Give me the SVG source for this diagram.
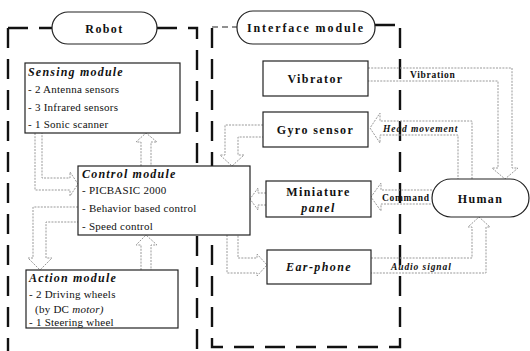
<svg xmlns="http://www.w3.org/2000/svg" width="530" height="351" viewBox="0 0 530 351">
<style>
.frame{fill:none;stroke:#111;stroke-width:2.4;stroke-dasharray:20 11}
.frame2{fill:none;stroke:#222;stroke-width:1.2;stroke-dasharray:6 4}
.box{fill:#fff;stroke:#222;stroke-width:1.2}
.arr{fill:none;stroke:#999;stroke-width:1;stroke-dasharray:2 1.2}
text{font-family:"Liberation Serif","Times New Roman",serif;fill:#111}
.h{font-weight:bold;font-style:italic;font-size:12px;letter-spacing:1.2px}
.t{font-size:11px;letter-spacing:0.25px}
.b{font-weight:bold;font-size:12px;letter-spacing:1.4px}
.lab{font-weight:bold;font-size:9.5px;letter-spacing:0.7px}
.labi{font-weight:bold;font-style:italic;font-size:9.5px;letter-spacing:0.9px}
</style>
<rect width="530" height="351" fill="#fff"/>
<g id="frames">
<path class="frame" d="M8,28 H52 M157,28 H197 V351 M8,28 V351"/>
<path class="frame" d="M212,28 V347 H400 V25 M375,25 H400"/>
<path class="frame2" d="M212,27 H237"/>
</g>
<g id="connectors">
<path class="arr" d="M35,133 V190 H70 V196 L78,184 L70,172 V178 H42 V133"/>
<path class="arr" d="M141,166 V142 H136 L146,133 L157,142 H151 V166"/>
<path class="arr" d="M78,207 H33 V258 H28 L40,270 L52,258 H46 V222 H78"/>
<path class="arr" d="M141,270 V245 H136 L146,235 L157,245 H151 V270"/>
<path class="arr" d="M263,125 H225 V155 H220 L232,166 L244,155 H238 V137 H263"/>
<path class="arr" d="M266,193 H258 V188 L250,199 L258,210 V205 H266"/>
<path class="arr" d="M227,235 V273 H257 V276 L267,265 L257,254 V258 H238 V235"/>
<path class="arr" d="M368,68 H512 V168 H518 L505,179 L492,168 H498 V81 H368"/>
<path class="arr" d="M472,179 V121 H380 V113 L370,128 L380,143 V135 H458 V179"/>
<path class="arr" d="M432,190 H381 V183 L371,197 L381,211 V204 H432"/>
<path class="arr" d="M371,258 H472 V227 H468 L479,217 L490,227 H486 V273 H371"/>
<text class="lab" x="410" y="78">Vibration</text>
<text class="labi" x="383" y="132">Head movement</text>
<text class="lab" x="382" y="201">Command</text>
<text class="labi" x="391" y="270">Audio signal</text>
</g>
<g id="robot">
<rect class="box" x="52" y="12" width="105" height="32" rx="16"/>
<text class="b" x="104.5" y="33" text-anchor="middle" font-size="13">Robot</text>
</g>
<g id="interface">
<rect class="box" x="237" y="11" width="138" height="33" rx="16"/>
<text class="b" x="306" y="32" text-anchor="middle" style="letter-spacing:1.9px">Interface module</text>
</g>
<g id="sensing">
<rect class="box" x="25" y="63" width="155" height="70"/>
<text class="h" x="28" y="76">Sensing module</text>
<text class="t" x="28" y="93">- 2 Antenna sensors</text>
<text class="t" x="28" y="111">- 3 Infrared sensors</text>
<text class="t" x="28" y="128">- 1 Sonic scanner</text>
</g>
<g id="control">
<rect class="box" x="78" y="166" width="172" height="69"/>
<text class="h" x="82" y="178">Control module</text>
<text class="t" x="82" y="194">- PICBASIC 2000</text>
<text class="t" x="82" y="212">- Behavior based control</text>
<text class="t" x="82" y="230">- Speed control</text>
</g>
<g id="action">
<rect class="box" x="26" y="270" width="152" height="58"/>
<text class="h" x="29" y="282">Action module</text>
<text class="t" x="29" y="298">- 2 Driving wheels</text>
<text class="t" x="35" y="313">(by DC <tspan font-style="italic">motor)</tspan></text>
<text class="t" x="29" y="326">- 1 Steering wheel</text>
</g>
<g id="vibrator">
<rect class="box" x="263" y="61" width="105" height="35"/>
<text class="b" x="315.5" y="83" text-anchor="middle">Vibrator</text>
</g>
<g id="gyro">
<rect class="box" x="263" y="112" width="105" height="35"/>
<text class="b" x="315.5" y="134" text-anchor="middle">Gyro sensor</text>
</g>
<g id="panel">
<rect class="box" x="266" y="181" width="105" height="36"/>
<text class="b" x="318.5" y="196" text-anchor="middle">Miniature</text>
<text class="b" x="318.5" y="212" text-anchor="middle" font-style="italic">panel</text>
</g>
<g id="earphone">
<rect class="box" x="267" y="250" width="104" height="34"/>
<text class="b" x="319" y="271" text-anchor="middle" font-style="italic">Ear-phone</text>
</g>
<g id="human">
<rect class="box" x="432" y="179" width="97" height="38" rx="19"/>
<text class="b" x="480.5" y="203" text-anchor="middle" font-size="13">Human</text>
</g>
</svg>
